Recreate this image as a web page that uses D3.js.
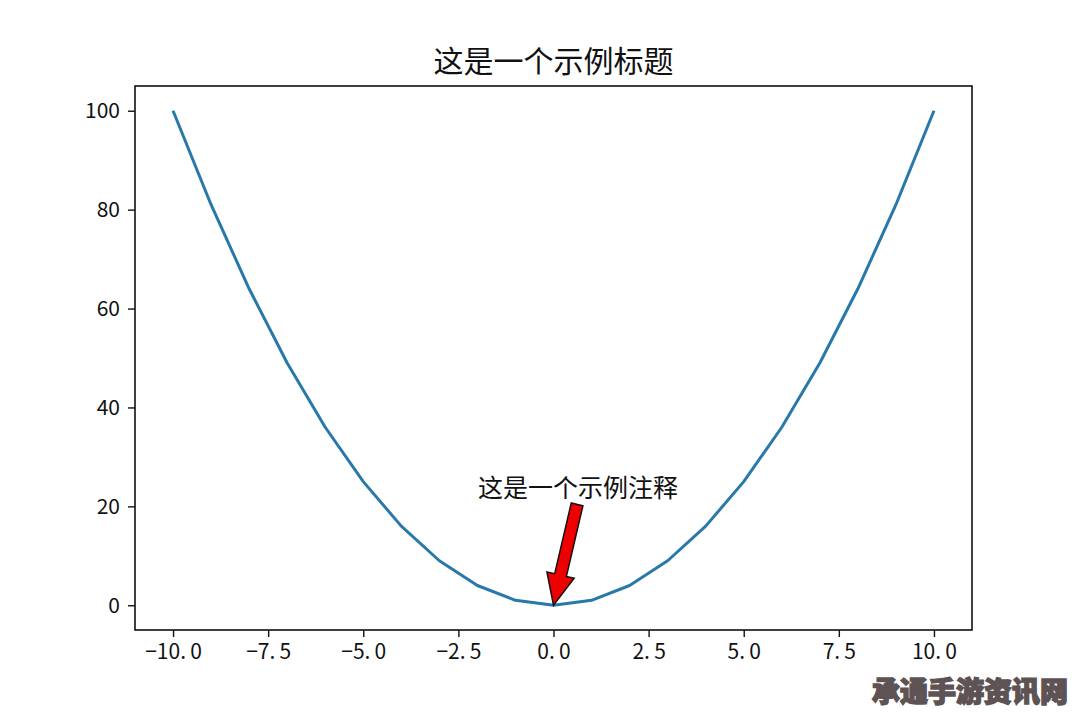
<!DOCTYPE html>
<html>
<head>
<meta charset="utf-8">
<script src="https://cdn.jsdelivr.net/npm/d3@7"></script>
<style>
  body { margin: 0; background: #fff; }
  text { font-family: "Noto Sans CJK SC", "Noto Sans", sans-serif; }
</style>
</head>
<body>
<div id="chart"></div>
<script>
// data
var xValues = [-10, -9, -8, -7, -6, -5, -4, -3, -2, -1, 0, 1, 2, 3, 4, 5, 6, 7, 8, 9, 10];
var yValues = [100, 81, 64, 49, 36, 25, 16, 9, 4, 1, 0, 1, 4, 9, 16, 25, 36, 49, 64, 81, 100];
var xTicks = [-10, -7.5, -5, -2.5, 0, 2.5, 5, 7.5, 10];
var yTicks = [0, 20, 40, 60, 80, 100];
var titleText = "这是一个示例标题";
var noteText = "这是一个示例注释";
var notePoint = [0, 0];      // where the arrow points
var noteTail = [0.62, 20.4]; // where the arrow starts
var watermark = "承通手游资讯网";

var width = 1080, height = 720;
var margin = {left: 135, right: 108, top: 86, bottom: 90};

var svg = d3.select("#chart").append("svg")
  .attr("width", width)
  .attr("height", height);

var x = d3.scaleLinear().domain([-11, 11]).range([margin.left, width - margin.right]);
var y = d3.scaleLinear().domain([-5, 105]).range([height - margin.bottom, margin.top]);

// simhei style: minus sign and a gap after the dot
var fmtX = function(d) { return d3.format(".1f")(d).replace("-", "\u2212").replace(".", ".\u2009"); };

var xAxis = svg.append("g")
  .attr("transform", "translate(0," + (height - margin.bottom) + ")")
  .call(d3.axisBottom(x).tickValues(xTicks).tickFormat(fmtX).tickSize(7).tickPadding(7).tickSizeOuter(0));
xAxis.select(".domain").remove();
xAxis.selectAll("text").attr("font-size", 21).attr("fill", "#111");
xAxis.selectAll("line").attr("stroke", "#111").attr("stroke-width", 1.4);

var yAxis = svg.append("g")
  .attr("transform", "translate(" + margin.left + ",0)")
  .call(d3.axisLeft(y).tickValues(yTicks).tickSize(7).tickPadding(8).tickSizeOuter(0));
yAxis.select(".domain").remove();
yAxis.selectAll("text").attr("font-size", 21).attr("fill", "#111");
yAxis.selectAll("line").attr("stroke", "#111").attr("stroke-width", 1.4);

// frame
svg.append("rect")
  .attr("x", margin.left)
  .attr("y", margin.top)
  .attr("width", width - margin.left - margin.right)
  .attr("height", height - margin.top - margin.bottom)
  .attr("fill", "none")
  .attr("stroke", "#111")
  .attr("stroke-width", 1.6);

var line = d3.line()
  .x(function(d, i) { return x(xValues[i]); })
  .y(function(d) { return y(d); });

svg.append("path")
  .datum(yValues)
  .attr("d", line)
  .attr("fill", "none")
  .attr("stroke", "#2878aa")
  .attr("stroke-width", 3)
  .attr("stroke-linejoin", "round");

// title
svg.append("text")
  .attr("x", (margin.left + width - margin.right) / 2)
  .attr("y", 72)
  .attr("text-anchor", "middle")
  .attr("font-size", 30)
  .attr("fill", "#111")
  .text(titleText);

// annotation arrow
var tx = x(noteTail[0]), ty = y(noteTail[1]);
var hx = x(notePoint[0]), hy = y(notePoint[1]);
var ang = Math.atan2(hy - ty, hx - tx);
var len = Math.sqrt((hx - tx) * (hx - tx) + (hy - ty) * (hy - ty));
var shaftW = 6, headW = 14, headL = 31;
var shape = [
  [0, -shaftW], [len - headL, -shaftW], [len - headL, -headW],
  [len, 0],
  [len - headL, headW], [len - headL, shaftW], [0, shaftW]
];
svg.append("polygon")
  .attr("points", shape.map(function(p) { return p.join(","); }).join(" "))
  .attr("transform", "translate(" + tx + "," + ty + ") rotate(" + (ang * 180 / Math.PI) + ")")
  .attr("fill", "#ee0000")
  .attr("stroke", "#111")
  .attr("stroke-width", 1.5)
  .attr("stroke-linejoin", "miter");

svg.append("text")
  .attr("x", tx + 1)
  .attr("y", ty - 7)
  .attr("text-anchor", "middle")
  .attr("font-size", 25)
  .attr("fill", "#111")
  .text(noteText);

// watermark
svg.append("text")
  .attr("x", 1068)
  .attr("y", 702)
  .attr("text-anchor", "end")
  .attr("font-size", 28)
  .attr("font-weight", "900")
  .attr("fill", "#5e5354")
  .attr("stroke", "#5e5354")
  .attr("stroke-width", 1.4)
  .text(watermark);
</script>
</body>
</html>
